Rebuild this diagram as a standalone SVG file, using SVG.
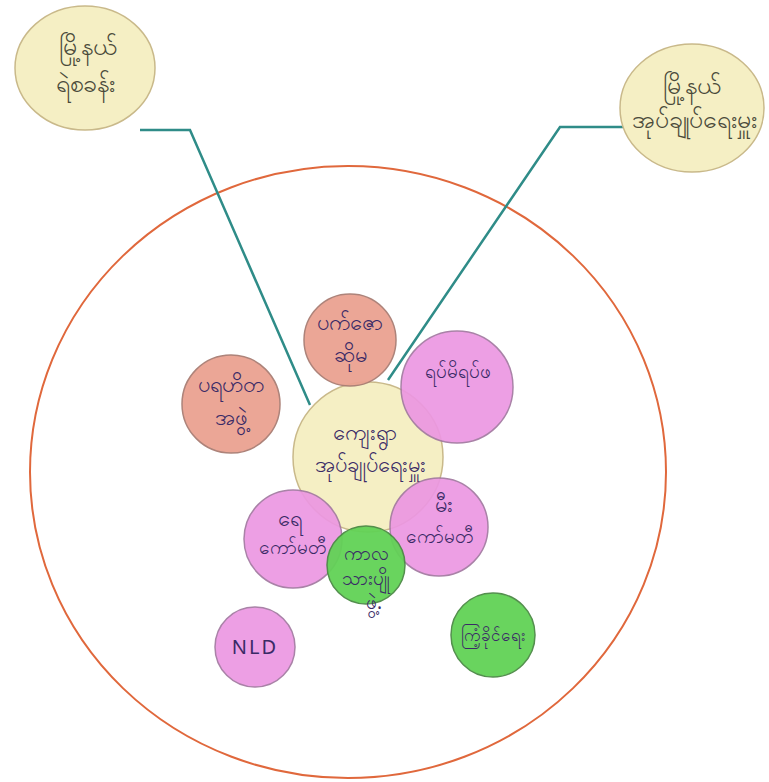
<svg xmlns="http://www.w3.org/2000/svg" width="769" height="782" viewBox="0 0 769 782">
<style>
.t{font-family:"Noto Sans","DejaVu Sans",sans-serif;font-size:19px;fill:#3a2a66;text-anchor:middle}
.big{font-size:25px;fill:#4a4a3a}
.mid{font-size:22px}
.y{fill:#f5efc4;stroke:#c9b98a;stroke-width:1.5}
.s{fill:#eaa291;stroke:#a97d73;stroke-width:1.5;opacity:.95}
.p{fill:#ec97e2;stroke:#a278a0;stroke-width:1.5;opacity:.92}
.g{fill:#62d256;stroke:#4b8a45;stroke-width:1.5;opacity:.95}
.c{fill:none;stroke:#2f8c88;stroke-width:2.5}
</style>
<rect width="769" height="782" fill="#ffffff"/>
<ellipse id="boundary" cx="348" cy="472" rx="318" ry="306" fill="none" stroke="#e0683c" stroke-width="2"/>
<g id="connectors">
<polyline class="c" points="140,130 190,130 310,405"/>
<polyline class="c" points="625,127 560,127 388,380"/>
</g>
<g id="township-police"><ellipse class="y" cx="85" cy="68" rx="70" ry="62"/><text class="t big" x="88" y="55">မြို့နယ်</text><text class="t big" x="85" y="92">ရဲစခန်း</text></g>
<g id="township-admin"><ellipse class="y" cx="692" cy="108" rx="72" ry="64"/><text class="t big" x="692" y="94">မြို့နယ်</text><text class="t big" x="694" y="128">အုပ်ချုပ်ရေးမှူး</text></g>
<g id="village-admin"><circle class="y" cx="368" cy="457" r="75"/><text class="t mid" x="365" y="440">ကျေးရွာ</text><text class="t mid" x="370" y="472">အုပ်ချုပ်ရေးမှူး</text></g>
<g id="top-node"><circle class="s" cx="350" cy="340" r="46"/><text class="t mid" x="350" y="330">ပက်ဇော</text><text class="t mid" x="350" y="362">ဆိုမ</text></g>
<g id="charity"><circle class="s" cx="231" cy="404" r="49"/><text class="t mid" x="231" y="392">ပရဟိတ</text><text class="t mid" x="231" y="425">အဖွဲ့</text></g>
<g id="elders"><circle class="p" cx="457" cy="387" r="56"/><text class="t" x="458" y="378">ရပ်မိရပ်ဖ</text></g>
<g id="water-committee"><circle class="p" cx="293" cy="539" r="49"/><text class="t mid" x="290" y="526">ရေ</text><text class="t" x="293" y="554">ကော်မတီ</text></g>
<g id="fire-committee"><circle class="p" cx="439" cy="527" r="49"/><text class="t mid" x="444" y="512">မီး</text><text class="t" x="440" y="543">ကော်မတီ</text></g>
<g id="youth"><circle class="g" cx="366" cy="565" r="39"/><text class="t" x="366" y="560">ကာလ</text><text class="t" x="366" y="585">သားပျို</text><text class="t" x="374" y="609">ဖွဲ့.</text></g>
<g id="nld"><circle class="p" cx="255" cy="647" r="40"/><text class="t" x="255" y="654" style="font-size:20px;letter-spacing:2px">NLD</text></g>
<g id="usdp"><circle class="g" cx="493" cy="635" r="42"/><text class="t" x="493" y="641" style="font-size:17px">ကြံ့ခိုင်ရေး</text></g>
</svg>
